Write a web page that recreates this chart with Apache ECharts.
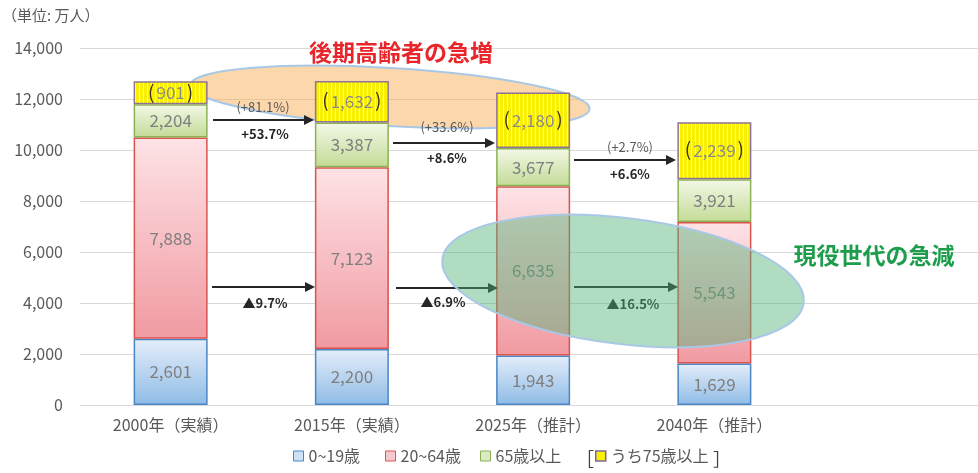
<!DOCTYPE html>
<html>
<head>
<meta charset="utf-8">
<script src="https://cdn.jsdelivr.net/npm/echarts@6/dist/echarts.min.js"></script>
<style>
  html, body { margin: 0; padding: 0; background: #fff; }
  #chart { width: 978px; height: 473px; }
</style>
</head>
<body>
<div id="chart"></div>
<script>
// 年次
const categories = ['2000年（実績）', '2015年（実績）', '2025年（推計）', '2040年（推計）']
// 人口 (万人)
const age0to19 = [2601, 2200, 1943, 1629]
const age20to64 = [7888, 7123, 6635, 5543]
const age65plus = [2204, 3387, 3677, 3921]
const age75plus = [901, 1632, 2180, 2239]
const yTicks = [0, 2000, 4000, 6000, 8000, 10000, 12000, 14000]

// 65~74歳の部分 (65歳以上 から うち75歳以上 を除く)
const age65to74 = age65plus.map((v, i) => v - age75plus[i])

const fmt = v => v.toLocaleString('en-US')
const FONT = '"Noto Sans CJK JP", "Noto Sans", sans-serif'

const grad = (top, bottom) => new echarts.graphic.LinearGradient(0, 0, 0, 1, [
  { offset: 0, color: top },
  { offset: 1, color: bottom }
])

// 縦縞パターン (うち75歳以上)
const stripe = document.createElement('canvas')
stripe.width = 4
stripe.height = 4
const sctx = stripe.getContext('2d')
sctx.fillStyle = '#f8f000'
sctx.fillRect(0, 0, 4, 4)
sctx.fillStyle = '#fffce0'
sctx.fillRect(3, 0, 1, 4)

const labelStyle = {
  show: true,
  position: 'inside',
  color: '#7f7f7f',
  fontSize: 17,
  fontFamily: FONT
}

// 矢印
const arrow = (x1, x2, y, color) => ([
  { type: 'line', shape: { x1: x1, y1: y, x2: x2 - 9, y2: y }, style: { stroke: color, lineWidth: 2 }, z: 10 },
  { type: 'polygon', shape: { points: [[x2 - 10, y - 5], [x2, y], [x2 - 10, y + 5]] }, style: { fill: color }, z: 10 }
])
const txt = (x, y, text, opt) => ({
  type: 'text', x: x, y: y, z: 10,
  style: Object.assign({ text: text, fill: '#262626', font: '13px ' + FONT, align: 'center', verticalAlign: 'middle' }, opt || {})
})

// 凡例 (項目ごとに位置を指定)
const legendItem = (left, item) => ({
  left: left,
  bottom: 4,
  itemWidth: 10,
  itemHeight: 10,
  icon: 'rect',
  textStyle: { color: '#595959', fontSize: 16, fontFamily: FONT },
  data: [item]
})

const chart = echarts.init(document.getElementById('chart'))

const option = {
  animation: false,
  textStyle: { fontFamily: FONT },
  grid: [
    { left: 80, right: 173, top: 48, bottom: 68 },
    { left: 80, right: 0, top: 48, bottom: 68, z: 0 }
  ],
  legend: [
    legendItem(288, { name: '0~19歳', itemStyle: { color: '#cfe1f5', borderColor: '#4a86c5', borderWidth: 1 } }),
    legendItem(380, { name: '20~64歳', itemStyle: { color: '#f7c9cd', borderColor: '#d9534f', borderWidth: 1 } }),
    legendItem(475, { name: '65歳以上', itemStyle: { color: '#dbeac0', borderColor: '#8db254', borderWidth: 1 } }),
    legendItem(590, { name: 'うち75歳以上', itemStyle: { color: '#f8f000', borderColor: '#8064a2', borderWidth: 1.5 } })
  ],
  xAxis: [
    {
      type: 'category',
      gridIndex: 0,
      data: categories,
      axisLine: { show: false },
      axisTick: { show: false },
      axisLabel: { color: '#595959', fontSize: 16, margin: 12, fontFamily: FONT }
    },
    { type: 'value', gridIndex: 1, show: false }
  ],
  yAxis: [
    {
      type: 'value',
      gridIndex: 0,
      min: yTicks[0],
      max: yTicks[yTicks.length - 1],
      interval: 2000,
      axisLine: { show: false },
      axisTick: { show: false },
      splitLine: { show: false },
      axisLabel: { color: '#595959', fontSize: 16, margin: 17, formatter: v => fmt(v), fontFamily: FONT }
    },
    {
      type: 'value',
      gridIndex: 1,
      min: yTicks[0],
      max: yTicks[yTicks.length - 1],
      interval: 2000,
      axisLine: { show: false },
      axisTick: { show: false },
      axisLabel: { show: false },
      splitLine: { lineStyle: { color: '#d9d9d9' } }
    }
  ],
  series: [
    {
      name: '0~19歳', type: 'bar', stack: 'pop', barWidth: 74,
      data: age0to19,
      itemStyle: { color: grad('#e4eefa', '#8fbbe6'), borderColor: '#4a86c5', borderWidth: 1.5 },
      label: Object.assign({}, labelStyle, { formatter: p => fmt(p.value) })
    },
    {
      name: '20~64歳', type: 'bar', stack: 'pop',
      data: age20to64,
      itemStyle: { color: grad('#fde3e6', '#f19aa2'), borderColor: '#d9534f', borderWidth: 1.5 },
      label: Object.assign({}, labelStyle, { formatter: p => fmt(p.value) })
    },
    {
      name: '65歳以上', type: 'bar', stack: 'pop',
      data: age65to74,
      itemStyle: { color: grad('#f3f8e8', '#c3db96'), borderColor: '#8db254', borderWidth: 1.5 },
      label: Object.assign({}, labelStyle, { formatter: p => fmt(age65plus[p.dataIndex]) })
    },
    {
      name: 'うち75歳以上', type: 'bar', stack: 'pop',
      data: age75plus,
      itemStyle: { color: { image: stripe, repeat: 'repeat' }, borderColor: '#8e7396', borderWidth: 1.5 },
      label: Object.assign({}, labelStyle, {
        formatter: p => '{b|(}{v|' + fmt(p.value) + '}{b|)}',
        rich: {
          b: { color: '#3a3020', fontSize: 19, padding: [0, 2, 3, 2], fontFamily: FONT },
          v: { color: '#8a8a8a', fontSize: 17, fontFamily: FONT }
        }
      })
    }
  ],
  graphic: [
    txt(2, 15, '（単位: 万人）', { fill: '#595959', font: '15px ' + FONT, align: 'left' }),
    txt(401, 52, '後期高齢者の急増', { fill: '#e8252b', font: 'bold 23px ' + FONT }),
    txt(874, 255, '現役世代の急減', { fill: '#1e9e4c', font: 'bold 23px ' + FONT }),

    // 65歳以上の増加
    ...arrow(213, 314, 120, '#262626'),
    txt(263, 107, '(+81.1%)', { fill: '#595959' }),
    txt(265, 134, '+53.7%', { font: 'bold 13px ' + FONT }),
    ...arrow(393, 495, 143, '#262626'),
    txt(447, 127, '(+33.6%)', { fill: '#595959' }),
    txt(447, 158, '+8.6%', { font: 'bold 13px ' + FONT }),
    ...arrow(574, 676, 160, '#262626'),
    txt(630, 147, '(+2.7%)', { fill: '#595959' }),
    txt(630, 174, '+6.6%', { font: 'bold 13px ' + FONT }),

    // 20~64歳の減少
    ...arrow(212, 315, 287, '#262626'),
    txt(265, 303, '▲9.7%', { font: 'bold 13px ' + FONT }),
    ...arrow(396, 498, 288, '#262626'),
    txt(443, 302, '▲6.9%', { font: 'bold 13px ' + FONT }),
    ...arrow(574, 678, 287, '#262626'),
    txt(633, 304, '▲16.5%', { font: 'bold 13px ' + FONT }),

    // 楕円
    {
      type: 'ellipse', z: 1,
      shape: { cx: 390, cy: 97, rx: 200, ry: 29 },
      rotation: -0.06, originX: 390, originY: 97,
      style: { fill: 'rgba(250,175,90,0.5)', stroke: '#a9c8e6', lineWidth: 2 }
    },
    {
      type: 'ellipse', z: 20,
      shape: { cx: 623, cy: 281, rx: 182, ry: 63 },
      rotation: -0.12, originX: 623, originY: 281,
      style: { fill: 'rgba(80,180,120,0.45)', stroke: '#a9c8e6', lineWidth: 2 }
    },

    // 凡例の括弧
    txt(585, 459, '［', { fill: '#404040', font: '18px ' + FONT }),
    txt(722, 459, '］', { fill: '#404040', font: '18px ' + FONT })
  ]
}

chart.setOption(option)
</script>
</body>
</html>
